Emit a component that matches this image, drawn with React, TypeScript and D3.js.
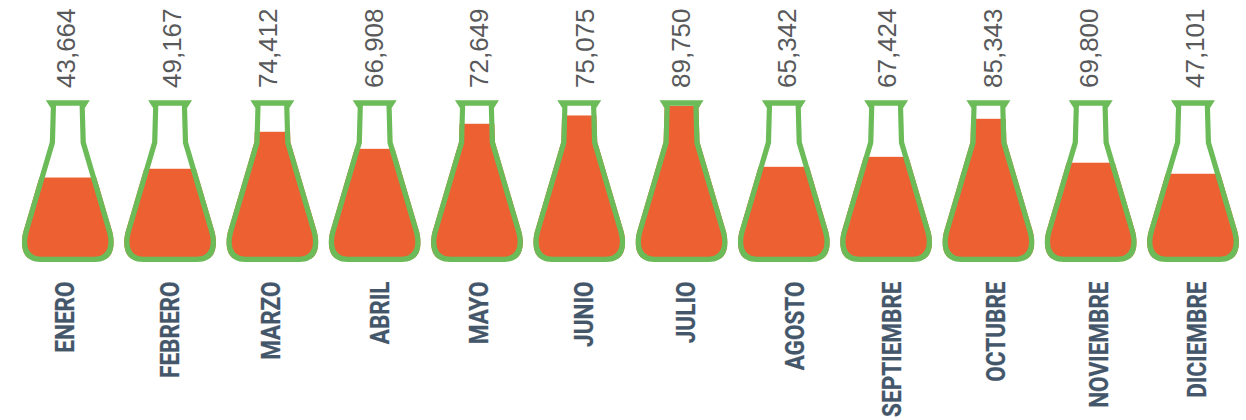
import React from "react";
import * as d3 from "d3";

const months = ["ENERO", "FEBRERO", "MARZO", "ABRIL", "MAYO", "JUNIO", "JULIO", "AGOSTO", "SEPTIEMBRE", "OCTUBRE", "NOVIEMBRE", "DICIEMBRE"];
const totals = [43664, 49167, 74412, 66908, 72649, 75075, 89750, 65342, 67424, 85343, 69800, 47101];
// how full each flask is drawn (not proportional to the totals)
const fillLevels = [0.525, 0.583, 0.828, 0.715, 0.881, 0.936, 1, 0.596, 0.662, 0.914, 0.623, 0.55];

const WIDTH = 1246;
const HEIGHT = 420;
const GREEN = "#6bbb58";
const ORANGE = "#ec6032";

// the labels in the original drift away from their flasks, so they get their own offsets
const totalOffsets = [-2, 1.9, -4.4, -0.7, 2, 5.7, -0.6, 3.6, 0.8, 4.2, -2.1, 1.7];
const monthOffsets = [-3.3, -0.6, -1.4, 5.3, 2, 4.7, 4.4, 10.6, 5.5, 7.5, 8.2, 3.7];

const x = d3.scalePoint<string>().domain(months).range([67.8, 1193]);
const level = d3.scaleLinear().domain([0, 1]).range([256.8, 105.8]);
const formatTotal = d3.format(",");

// flask glyph, centred on x = 0, symmetric around it
function outerFlask() {
  const p = d3.path();
  p.moveTo(-22, 100.3);
  p.lineTo(22, 100.3);
  p.lineTo(17, 108);
  p.lineTo(18, 142);
  p.lineTo(43.5, 228.5);
  p.bezierCurveTo(48, 242, 48, 262, 27, 262);
  p.lineTo(-27, 262);
  p.bezierCurveTo(-48, 262, -48, 242, -43.5, 228.5);
  p.lineTo(-18, 142);
  p.lineTo(-17, 108);
  p.closePath();
  return p.toString();
}

function innerFlask() {
  const p = d3.path();
  p.moveTo(-11.8, 105.8);
  p.lineTo(11.8, 105.8);
  p.lineTo(12.8, 143);
  p.lineTo(38.5, 230);
  p.bezierCurveTo(42.5, 242, 42, 256.8, 26, 256.8);
  p.lineTo(-26, 256.8);
  p.bezierCurveTo(-42, 256.8, -42.5, 242, -38.5, 230);
  p.lineTo(-12.8, 143);
  p.closePath();
  return p.toString();
}

export default function App() {
  const outer = outerFlask();
  const inner = innerFlask();
  return (
    <svg
      width={WIDTH}
      height={HEIGHT}
      style={{ position: "absolute", left: 0, top: 0, background: "#fff" }}
    >
      <defs>
        <clipPath id="flask-outline">
          <path d={outer} />
        </clipPath>
      </defs>
      {months.map((m, i) => {
        const cx = x(m) as number;
        return (
          <g key={m}>
            <g transform={`translate(${cx},0)`}>
              {/* liquid goes under the glass so no white seam shows at the edge */}
              <rect
                x={-50}
                width={100}
                y={level(fillLevels[i])}
                height={level(0) - level(fillLevels[i]) + 2}
                fill={ORANGE}
                clipPath="url(#flask-outline)"
              />
              <path d={outer + inner} fill={GREEN} fillRule="evenodd" />
            </g>
            <text
              transform={`translate(${cx + totalOffsets[i] + 9},88) rotate(-90)`}
              fontFamily="Liberation Sans, Arial, sans-serif"
              fontSize={26}
              fill="#58595b"
            >
              {formatTotal(totals[i])}
            </text>
            <text
              transform={`translate(${cx + monthOffsets[i] + 9.5},281.5) rotate(-90) scale(0.85,1)`}
              textAnchor="end"
              fontFamily="Roboto, sans-serif"
              fontWeight={700}
              fontSize={26.5}
              fill="#43566a"
              stroke="#43566a"
              strokeWidth={0.3}
            >
              {m}
            </text>
          </g>
        );
      })}
    </svg>
  );
}
